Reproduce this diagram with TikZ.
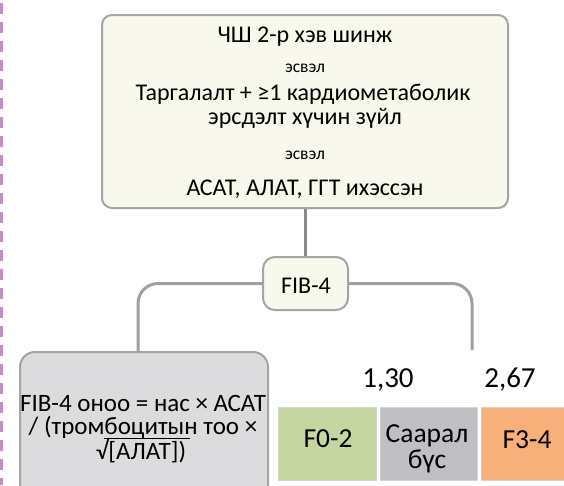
\documentclass[tikz,border=0pt]{standalone}
\usepackage{fontspec}
\setmainfont{Carlito}
\definecolor{cream}{RGB}{248,248,236}
\definecolor{boxline}{RGB}{165,165,165}
\definecolor{linkgray}{RGB}{160,160,162}
\definecolor{stemgray}{RGB}{138,138,140}
\definecolor{formulafill}{RGB}{220,220,222}
\definecolor{lowgreen}{RGB}{197,214,160}
\definecolor{midgray}{RGB}{192,192,196}
\definecolor{highorange}{RGB}{248,176,122}
\definecolor{bandline}{RGB}{212,212,212}
\definecolor{marginpink}{RGB}{204,136,200}
\begin{document}
\begin{tikzpicture}[x=1pt,y=-1pt,
  creambox/.style={draw=boxline, line width=2pt, fill=cream, rounded corners=10pt, inner sep=0pt},
  graybox/.style={draw=boxline, line width=2pt, fill=formulafill, rounded corners=15pt, inner sep=0pt},
  band/.style={draw=bandline, line width=1.2pt, inner sep=0pt, anchor=north west, minimum height=73pt},
  bandtext/.style={font=\fontsize{27.5}{26}\selectfont, inner sep=0pt, anchor=base},
  maintext/.style={font=\fontsize{24}{28}\selectfont, inner sep=0pt, anchor=base},
  smalltext/.style={font=\fontsize{17.5}{19}\selectfont, inner sep=0pt, anchor=base},
  formulatext/.style={font=\fontsize{25}{28}\selectfont, inner sep=0pt, anchor=base},
  cut/.style={font=\fontsize{29}{32}\selectfont, inner sep=0pt, anchor=base},
  link/.style={draw=linkgray, line width=3pt},
  stem/.style={draw=stemgray, line width=3pt}]
\useasboundingbox (0,0) rectangle (564,485);
\clip (0,0) rectangle (564,485);
\fill[white] (0,0) rectangle (564,485);

% dashed margin rule
\draw[marginpink, line width=3pt, dash pattern=on 11pt off 8pt] (1.5,3) -- (1.5,485);

% screening criteria
\node[creambox, minimum width=406pt, minimum height=193pt] (crit) at (305,111.5) {};
\node[maintext]  (c1) at (305,42)  {ЧШ 2-р хэв шинж};
\node[smalltext] (o1) at (305,72)  {эсвэл};
\node[maintext]  (c2) at (303,100) {Таргалалт + ≥1 кардиометаболик};
\node[maintext]  (c3) at (305,124) {эрсдэлт хүчин зүйл};
\node[smalltext] (o2) at (305,159) {эсвэл};
\node[maintext]  (c4) at (305,195) {АСАТ, АЛАТ, ГГТ ихэссэн};

% FIB-4 decision node
\node[creambox, rounded corners=12pt, minimum width=85pt, minimum height=53pt] (fib) at (305.5,283.5) {};
\node[font=\fontsize{24}{26}\selectfont, inner sep=0pt, anchor=base] (fibt) at (306,293) {FIB-4};

% formula box
\node[graybox, minimum width=248pt, minimum height=160pt, anchor=north west] (formula) at (19,351) {};
\node[formulatext] (f1) at (143,411) {FIB-4 оноо = нас × АСАТ};
\node[formulatext] (f2) at (143,434) {/ (тромбоцитын тоо ×};
\node[formulatext] (f3) at (141,459) {√[АЛАТ])};
\draw[line width=1pt] (104,438.5) -- (190,438.5);

% connectors
\coordinate (lend) at (138,351);
\coordinate (rend) at (472,350);
\draw[stem] (crit.south) -- (crit.south |- fib.north);
\draw[link, rounded corners=20pt] (fib.west) -| (lend);
\draw[link, rounded corners=20pt] (fib.east) -| (rend);

% cut-offs
\node[cut] (t1) at (388,387) {1,30};
\node[cut] (t2) at (510,387) {2,67};

% fibrosis bands
\node[band, fill=lowgreen, minimum width=98pt] (b1) at (278,407) {};
\node[band, fill=midgray, minimum width=97pt] (b2) at (380,407) {};
\node[band, fill=highorange, minimum width=90pt] (b3) at (481,407) {};
\node[bandtext] (b1t) at (328,447) {F0-2};
\node[bandtext] (b2t) at (427,442) {Саарал};
\node[bandtext] (b2u) at (427,468) {бүс};
\node[bandtext] (b3t) at (527,448) {F3-4};
\end{tikzpicture}
\end{document}
